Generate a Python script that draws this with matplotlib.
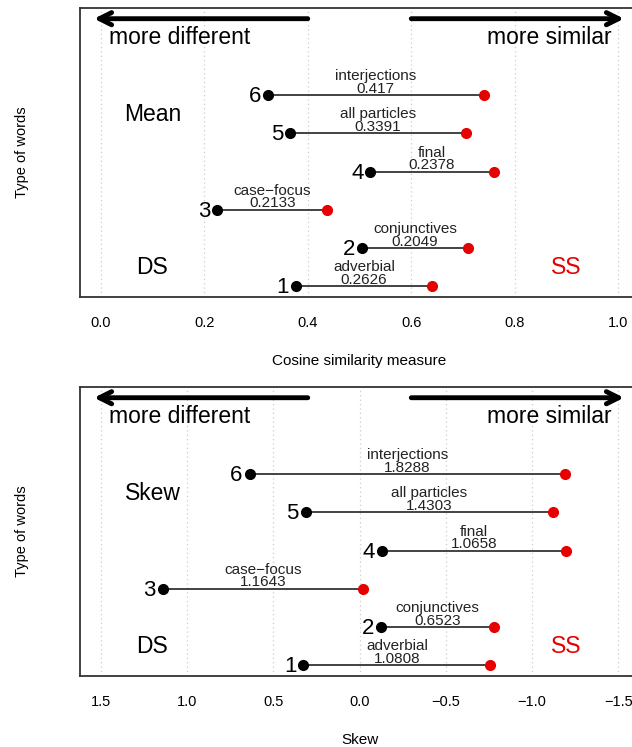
import matplotlib.pyplot as plt

plt.rcParams['font.family'] = ['Liberation Sans', 'DejaVu Sans']

# === DATA ===
rows = [1, 2, 3, 4, 5, 6]
word_types = ["adverbial", "conjunctives", "case\u2212focus", "final", "all particles", "interjections"]

# cosine similarity (DS = black, SS = red)
mean_ds = [0.377, 0.505, 0.225, 0.521, 0.366, 0.323]
mean_ss = [0.640, 0.710, 0.438, 0.759, 0.705, 0.740]
mean_diff = ["0.2626", "0.2049", "0.2133", "0.2378", "0.3391", "0.417"]

# skew
skew_ds = [0.325, -0.126, 1.140, -0.128, 0.311, 0.637]
skew_ss = [-0.758, -0.778, -0.022, -1.196, -1.121, -1.192]
skew_diff = ["1.0808", "0.6523", "1.1643", "1.0658", "1.4303", "1.8288"]

mean_ticks = [0.0, 0.2, 0.4, 0.6, 0.8, 1.0]
mean_ticklabels = ["0.0", "0.2", "0.4", "0.6", "0.8", "1.0"]
skew_ticks = [1.5, 1.0, 0.5, 0.0, -0.5, -1.0, -1.5]
skew_ticklabels = ["1.5", "1.0", "0.5", "0.0", "\u22120.5", "\u22121.0", "\u22121.5"]

RED = '#e60000'


def draw_panel(ax, ds, ss, diffs, xlim, ticks, ticklabels, xlabel, name):
    x0, x1 = xlim
    span = x1 - x0
    ax.set_xlim(x0 - 0.04 * span, x1 + 0.04 * span)
    ax.set_ylim(0.72, 8.28)

    # dotted grid at the ticks
    for t in ticks:
        ax.axvline(t, color='#cccccc', linestyle=(0, (1, 2.5)), linewidth=0.9, zorder=0)

    # dumbbells
    for r, a, b, w, d in zip(rows, ds, ss, word_types, diffs):
        ax.plot([a, b], [r, r], color='#222222', linewidth=1.2, zorder=2)
        ax.plot(a, r, 'o', color='black', markersize=7, zorder=3)
        ax.plot(b, r, 'o', color=RED, markersize=7, zorder=3)
        mid = (a + b) / 2
        ax.text(mid, r + 0.5, w, fontsize=11, ha='center', va='center', color='#222222')
        ax.text(mid, r + 0.17, d, fontsize=11, ha='center', va='center', color='#222222')
        ax.annotate(str(r), (a, r), xytext=(-5, -1), textcoords='offset points',
                    fontsize=16, ha='right', va='center')

    # direction arrows
    arrow = dict(arrowstyle='->', lw=3.5, color='black', mutation_scale=22, shrinkA=0, shrinkB=0)
    ax.annotate('', xy=(x0 - 0.013 * span, 8), xytext=(x0 + 0.4 * span, 8), arrowprops=arrow)
    ax.annotate('', xy=(x1 + 0.011 * span, 8), xytext=(x0 + 0.6 * span, 8), arrowprops=arrow)
    ax.text(x0 + 0.153 * span, 7.5, "more different", fontsize=16.5, ha='center', va='center')
    ax.text(x0 + 0.866 * span, 7.5, "more similar", fontsize=16.5, ha='center', va='center')

    ax.text(x0 + 0.1 * span, 5.5, name, fontsize=16.5, ha='center', va='center')
    ax.text(x0 + 0.1 * span, 1.5, "DS", fontsize=16.5, ha='center', va='center')
    ax.text(x0 + 0.9 * span, 1.5, "SS", fontsize=16.5, ha='center', va='center', color=RED)

    ax.set_xticks(ticks)
    ax.set_xticklabels(ticklabels)
    ax.set_yticks([])
    ax.tick_params(axis='x', length=0, pad=14, labelsize=10.5)
    ax.set_xlabel(xlabel, fontsize=11, labelpad=17)
    ax.set_ylabel("Type of words", fontsize=10.5, labelpad=37)
    for s in ax.spines.values():
        s.set_linewidth(1.3)
        s.set_color('#333333')


fig = plt.figure(figsize=(6.32, 7.47), dpi=100)
ax1 = fig.add_axes([0.1266, 0.6024, 0.8845, 0.3869])
ax2 = fig.add_axes([0.1266, 0.0950, 0.8845, 0.3869])

draw_panel(ax1, mean_ds, mean_ss, mean_diff, (0.0, 1.0), mean_ticks, mean_ticklabels,
           "Cosine similarity measure", "Mean")
draw_panel(ax2, skew_ds, skew_ss, skew_diff, (1.5, -1.5), skew_ticks, skew_ticklabels,
           "Skew", "Skew")

fig.savefig("out.png", dpi=100)
